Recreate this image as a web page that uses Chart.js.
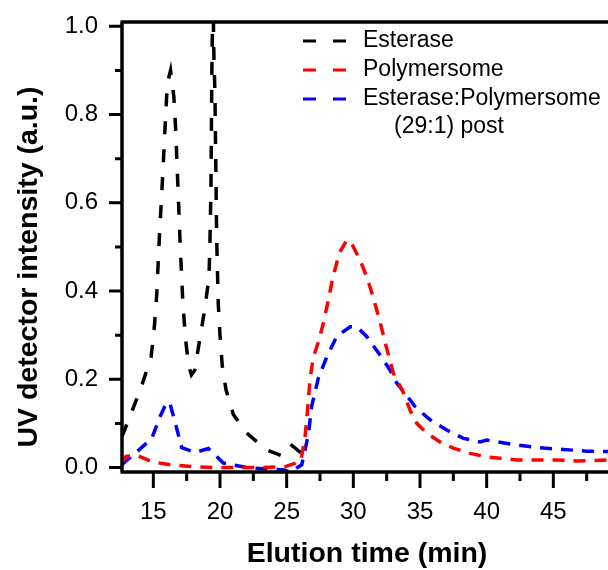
<!DOCTYPE html>
<html>
<head>
<meta charset="utf-8">
<script src="https://cdn.jsdelivr.net/npm/chart.js@4.4.0/dist/chart.umd.min.js"></script>
<style>
  html, body { margin: 0; padding: 0; background: #fff; overflow: hidden; }
  #wrap { width: 608px; height: 570px; }
</style>
</head>
<body>
<div id="wrap"><canvas id="sec" width="608" height="570"></canvas></div>
<script>
// elution profiles (time in min, normalised UV signal)
const esteraseTime = [12.65, 13.43, 14.07, 14.83, 15.08, 15.25, 15.45, 15.70, 15.91, 16.05, 16.29, 16.54, 16.67, 16.84, 17.02, 17.22, 17.42, 17.65, 17.86, 18.10, 18.48, 18.86, 19.17, 19.24, 19.32, 19.39, 19.47, 19.55, 19.62, 19.75, 19.87, 20.00, 20.17, 20.45, 21.00, 22.00, 23.50, 24.75, 25.40, 26.00, 26.80];
const esteraseSignal = [0.07, 0.13, 0.18, 0.25, 0.32, 0.39, 0.52, 0.66, 0.79, 0.87, 0.90, 0.84, 0.77, 0.64, 0.50, 0.37, 0.29, 0.23, 0.21, 0.22, 0.29, 0.36, 0.43, 0.50, 0.63, 0.90, 1.08, 0.92, 0.85, 0.52, 0.37, 0.30, 0.23, 0.176, 0.12, 0.078, 0.04, 0.025, 0.05, 0.035, 0.028];

const polyTime = [12.63, 12.95, 13.75, 14.88, 16.3, 18.0, 19.5, 21.0, 23.0, 24.9, 26.06, 26.38, 26.58, 26.75, 27.0, 27.38, 27.75, 28.13, 28.46, 28.95, 29.5, 29.8, 30.5, 31.0, 31.5, 32.0, 32.5, 33.0, 33.75, 34.25, 34.76, 35.51, 36.5, 37.5, 38.76, 40.01, 41.0, 42.26, 43.76, 45.26, 46.76, 49.1];
const polySignal = [0.01, 0.025, 0.028, 0.013, 0.006, 0.002, 0.0, 0.0, 0.0, 0.002, 0.014, 0.07, 0.135, 0.2, 0.25, 0.285, 0.327, 0.38, 0.43, 0.486, 0.515, 0.512, 0.47, 0.433, 0.385, 0.33, 0.27, 0.214, 0.17, 0.13, 0.10, 0.078, 0.058, 0.044, 0.032, 0.024, 0.021, 0.017, 0.017, 0.017, 0.015, 0.017];

const mixTime = [12.63, 12.88, 13.75, 14.88, 15.5, 16.0, 16.25, 16.76, 17.13, 18.13, 19.13, 19.5, 20.25, 22.0, 23.25, 24.75, 25.25, 26.13, 26.63, 26.88, 27.38, 28.0, 28.76, 29.76, 30.26, 31.0, 32.0, 32.75, 33.26, 33.88, 34.63, 35.76, 37.0, 38.26, 39.5, 40.0, 40.8, 42.26, 44.26, 45.76, 47.51, 49.1];
const mixSignal = [0.006, 0.013, 0.035, 0.066, 0.115, 0.148, 0.145, 0.088, 0.045, 0.034, 0.043, 0.032, 0.01, 0.0, -0.003, -0.005, -0.01, 0.006, 0.075, 0.14, 0.203, 0.25, 0.297, 0.319, 0.319, 0.297, 0.255, 0.221, 0.191, 0.168, 0.138, 0.108, 0.085, 0.066, 0.058, 0.062, 0.058, 0.051, 0.044, 0.041, 0.037, 0.036];

const seriesNames = ['Esterase', 'Polymersome', 'Esterase:Polymersome'];
const seriesColors = ['#000000', '#ff0000', '#0000ff'];
const seriesDash = [[13, 15], [12, 9], [12, 9]];

// axis ticks
const xMajor = [15, 20, 25, 30, 35, 40, 45];
const xMinor = [17.5, 22.5, 27.5, 32.5, 37.5, 42.5, 47.5];
const yMajor = [0, 0.2, 0.4, 0.6, 0.8, 1.0];
const yMinor = [0.1, 0.3, 0.5, 0.7, 0.9];

const FONT = '"Liberation Sans", Arial, sans-serif';
Chart.defaults.font.family = FONT;
Chart.defaults.color = '#000';

function pts(xs, ys) {
  return xs.map((x, i) => ({ x: x, y: ys[i] }));
}

function line(i, data) {
  return {
    label: seriesNames[i],
    data: data,
    borderColor: seriesColors[i],
    backgroundColor: seriesColors[i],
    borderWidth: 3.5,
    borderDash: seriesDash[i],
    pointRadius: 0,
    tension: 0,
    fill: false
  };
}

// axes, tick marks, titles and legend drawn over the plot
const frame = {
  id: 'frame',
  afterDatasetsDraw(chart) {
    const ctx = chart.ctx;
    const xs = chart.scales.x, ys = chart.scales.y;
    const a = chart.chartArea;
    ctx.save();
    ctx.strokeStyle = '#000';
    ctx.setLineDash([]);
    ctx.lineWidth = 3.5;
    ctx.beginPath();
    ctx.moveTo(a.left, a.top); ctx.lineTo(a.left, a.bottom);
    ctx.moveTo(a.left - 1.5, a.bottom); ctx.lineTo(a.right, a.bottom);
    ctx.moveTo(a.left - 1.5, a.top); ctx.lineTo(a.right, a.top);
    ctx.stroke();

    ctx.lineWidth = 3;
    ctx.beginPath();
    xMajor.forEach(v => { const p = xs.getPixelForValue(v); ctx.moveTo(p, a.bottom); ctx.lineTo(p, a.bottom + 16); });
    xMinor.forEach(v => { const p = xs.getPixelForValue(v); ctx.moveTo(p, a.bottom); ctx.lineTo(p, a.bottom + 9); });
    yMajor.forEach(v => { const p = ys.getPixelForValue(v); ctx.moveTo(a.left, p); ctx.lineTo(a.left - 13, p); });
    yMinor.forEach(v => { const p = ys.getPixelForValue(v); ctx.moveTo(a.left, p); ctx.lineTo(a.left - 7, p); });
    ctx.stroke();

    // axis titles
    ctx.fillStyle = '#000';
    ctx.font = 'bold 28.5px ' + FONT;
    ctx.textAlign = 'center';
    ctx.textBaseline = 'middle';
    ctx.fillText('Elution time (min)', 367, 554);
    ctx.save();
    ctx.translate(29, 267);
    ctx.rotate(-Math.PI / 2);
    ctx.fillText('UV detector intensity (a.u.)', 0, 0);
    ctx.restore();

    // legend
    const rows = [41, 70, 99];
    ctx.font = '23px ' + FONT;
    ctx.textAlign = 'left';
    rows.forEach((y, i) => {
      ctx.strokeStyle = seriesColors[i];
      ctx.lineWidth = 3;
      ctx.setLineDash([13, 17]);
      ctx.beginPath();
      ctx.moveTo(303, y); ctx.lineTo(347, y);
      ctx.stroke();
      ctx.fillText(seriesNames[i], 363, y);
    });
    ctx.fillText('(29:1) post', 394, 127);
    ctx.restore();
  }
};

new Chart(document.getElementById('sec'), {
  type: 'line',
  data: {
    datasets: [
      line(0, pts(esteraseTime, esteraseSignal)),
      line(1, pts(polyTime, polySignal)),
      line(2, pts(mixTime, mixSignal))
    ]
  },
  options: {
    responsive: false,
    animation: false,
    devicePixelRatio: 1,
    layout: { padding: { top: 22, right: 0, left: 0, bottom: 0 } },
    plugins: { legend: { display: false }, tooltip: { enabled: false } },
    scales: {
      x: {
        type: 'linear',
        min: 12.65,
        max: 49.1,
        grid: { display: false, drawTicks: false },
        border: { display: false },
        afterBuildTicks: s => { s.ticks = xMajor.map(v => ({ value: v })); },
        afterFit: s => { s.height = 98; s.paddingLeft = 0; s.paddingRight = 0; },
        ticks: { padding: 26, font: { size: 24 }, maxRotation: 0, autoSkip: false }
      },
      y: {
        min: -0.0102,
        max: 1.0097,
        grid: { display: false, drawTicks: false },
        border: { display: false },
        afterBuildTicks: s => { s.ticks = yMajor.map(v => ({ value: v })); },
        afterFit: s => { s.width = 122; s.paddingTop = 0; s.paddingBottom = 0; },
        ticks: { padding: 24, font: { size: 24 }, callback: v => v.toFixed(1) }
      }
    }
  },
  plugins: [frame]
});
</script>
</body>
</html>
